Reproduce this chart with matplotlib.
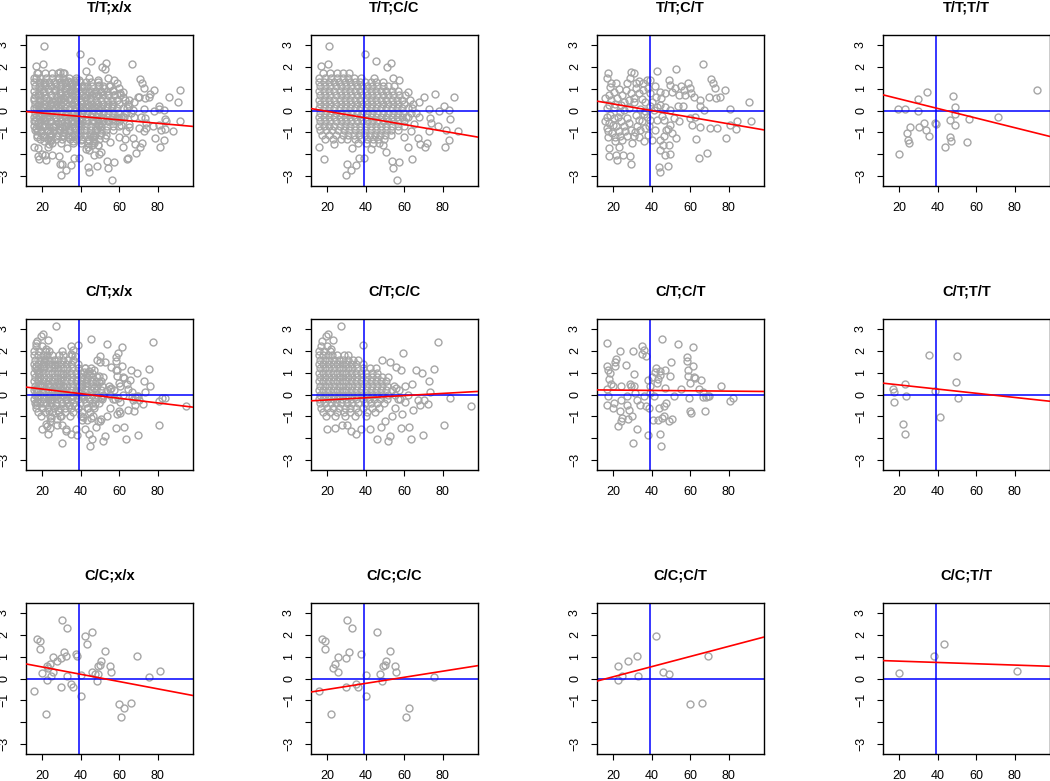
import numpy as np
import matplotlib
matplotlib.use('Agg')
import matplotlib.pyplot as plt

plt.rcParams['font.family'] = ['Liberation Sans', 'DejaVu Sans']

# --- data ----------------------------------------------------------------
# dense clouds are given as rows: (y, [x, x, ...]); sparse points as (x, y)

# T/T;C/C
tt_cc_rows = [
    (1.70, [18.0, 21.5, 25.0, 28.4, 31.5]),
    (1.50, [16.0, 19.0, 22.0, 25.0, 28.0, 31.0, 34.0, 37.5, 44.5]),
    (1.30, [15.5, 18.2, 20.9, 23.6, 26.3, 29.0, 31.7, 34.4, 37.1, 39.8, 42.5, 45.5, 49.0]),
    (1.10, [16.3, 19.0, 21.7, 24.4, 27.1, 29.8, 32.5, 35.2, 37.9, 40.6, 43.3, 46.0, 48.7, 51.5, 54.5]),
    (0.90, [15.6, 18.3, 21.0, 23.7, 26.4, 29.1, 31.8, 34.5, 37.2, 39.9, 42.6, 45.3, 48.0, 50.7, 53.4, 56.5]),
    (0.70, [16.3, 19.0, 21.7, 24.4, 27.1, 29.8, 32.5, 35.2, 37.9, 40.6, 43.3, 46.0, 48.7, 51.4, 54.1, 57.0, 60.5]),
    (0.50, [15.6, 18.3, 21.0, 23.7, 26.4, 29.1, 31.8, 34.5, 37.2, 39.9, 42.6, 45.3, 48.0, 50.7, 53.4, 56.1, 59.0, 63.0]),
    (0.30, [16.3, 19.0, 21.7, 24.4, 27.1, 29.8, 32.5, 35.2, 37.9, 40.6, 43.3, 46.0, 48.7, 51.4, 54.1, 56.8, 60.0, 64.5]),
    (0.10, [15.6, 18.3, 21.0, 23.7, 26.4, 29.1, 31.8, 34.5, 37.2, 39.9, 42.6, 45.3, 48.0, 50.7, 53.4, 56.1, 58.8, 62.0]),
    (-0.10, [16.3, 19.0, 21.7, 24.4, 27.1, 29.8, 32.5, 35.2, 37.9, 40.6, 43.3, 46.0, 48.7, 51.4, 54.1, 56.8, 59.5, 63.5]),
    (-0.30, [15.6, 18.3, 21.0, 23.7, 26.4, 29.1, 31.8, 34.5, 37.2, 39.9, 42.6, 45.3, 48.0, 50.7, 53.4, 56.1, 58.8, 61.8]),
    (-0.50, [16.3, 19.0, 21.7, 24.4, 27.1, 29.8, 32.5, 35.2, 37.9, 40.6, 43.3, 46.0, 48.7, 51.4, 54.1, 56.8, 60.0]),
    (-0.70, [15.6, 18.3, 21.0, 23.7, 26.4, 29.1, 31.8, 34.5, 37.2, 39.9, 42.6, 45.3, 48.0, 50.7, 53.4, 56.5, 59.8]),
    (-0.90, [16.5, 19.5, 22.5, 25.5, 28.5, 31.5, 34.4, 37.1, 39.8, 42.5, 45.2, 47.9, 50.6, 53.3, 56.5]),
    (-1.10, [17.5, 21.0, 24.5, 28.0, 31.0, 34.0, 36.7, 39.4, 42.1, 44.8, 47.5, 50.2, 53.0]),
    (-1.30, [19.0, 23.0, 27.0, 30.5, 34.5, 37.5, 40.5, 43.5, 46.5, 49.5]),
    (-1.50, [36.0, 40.0, 44.0, 47.0]),
]
tt_cc_pts = [
    (20.7, 2.97), (39.6, 2.6), (45.1, 2.26), (53.1, 2.16), (51.0, 2.0), (16.7, 2.05), (20.2, 2.11),
    (54.0, 1.5), (57.1, 1.41), (61.8, 0.83), (70.1, 0.64), (75.8, 0.76), (85.5, 0.61), (80.8, 0.21),
    (67.5, 0.37), (73.0, 0.06), (78.2, -0.02), (83.0, 0.02), (67.5, -0.31), (73.2, -0.34), (73.9, -0.58),
    (77.7, -0.7), (83.9, -0.4), (87.6, -0.95), (81.7, -0.89), (83.1, -1.36), (81.2, -1.65), (73.0, -0.96),
    (71.8, -1.5), (70.8, -1.68), (66.9, -1.27), (68.2, -1.54), (63.5, -0.96), (62.1, -1.65), (63.8, -2.23),
    (57.1, -2.35), (53.6, -2.31), (54.0, -2.65), (56.2, -3.17), (50.5, -1.88), (48.8, -1.57), (39.2, -2.19),
    (36.6, -2.16), (35.0, -2.49), (32.6, -2.72), (30.2, -2.45), (29.5, -2.95), (18.4, -2.2), (15.7, -1.67),
    (23.6, -1.54), (32.8, -1.74), (42.7, -1.76), (64.0, 0.1), (66.0, -0.1), (61.0, -0.3), (65.0, -0.6),
    (60.0, -1.2),
]

# T/T;C/T
tt_ct_pts = [
    (17.4, 1.71), (16.6, 1.48), (19.0, 1.25), (18.3, 1.07), (21.2, 1.25), (20.3, 0.87), (17.8, 0.72),
    (29.0, 1.76), (31.0, 1.71), (28.6, 1.48), (27.2, 1.25), (31.6, 1.25), (33.3, 1.33), (35.3, 1.25),
    (37.6, 1.41), (39.3, 1.41), (42.5, 1.83), (52.4, 1.9), (66.7, 2.13),
    (26.4, 0.95), (24.7, 0.72), (29.0, 0.8), (30.7, 0.57), (33.3, 0.8), (35.0, 0.52), (36.7, 0.41),
    (39.3, 0.8), (40.2, 0.41), (41.9, 1.1), (44.5, 0.87), (47.0, 0.8), (48.8, 1.41), (49.7, 1.18),
    (50.5, 0.87), (52.2, 1.02), (53.9, 0.72), (55.2, 1.1), (56.6, 0.95), (58.6, 1.25), (60.0, 1.02),
    (57.4, 0.72), (60.5, 0.8), (61.7, 0.64), (65.2, 0.49), (69.5, 0.64), (70.7, 1.44), (71.7, 1.28),
    (72.9, 1.02), (78.1, 0.95), (75.5, 0.64), (73.4, 0.57), (65.2, 0.21), (66.9, 0.03),
    (90.2, 0.37), (91.4, -0.46), (84.1, -0.5), (83.8, -0.86), (80.7, -0.66), (80.7, 0.06), (78.4, -1.27),
    (73.8, -0.81), (70.3, -0.81), (68.6, -1.93), (64.3, -2.19), (63.1, -1.32), (65.2, -0.76), (60.9, -0.66),
    (59.7, -0.35), (62.6, -0.31), (53.4, 0.21), (56.2, 0.21), (49.7, 0.03), (47.1, 0.15), (44.5, 0.26),
    (42.8, 0.18), (41.0, 0.03), (51.4, -0.35), (54.0, -0.46), (49.7, -0.66), (47.6, -0.89), (50.5, -1.04),
    (52.8, -1.27), (48.9, -1.57), (45.9, -1.57), (47.1, -2.03), (49.7, -1.99), (44.5, -1.35), (44.1, -1.83),
    (43.6, -2.57), (44.5, -2.83), (48.4, -2.54), (41.9, -0.89), (40.2, -1.35), (39.3, -0.43),
    (16.9, -0.28), (16.0, -0.5), (16.6, -0.81), (17.2, -1.22), (17.8, -1.73), (17.8, -2.08), (21.2, -2.03),
    (22.1, -2.29), (25.0, -2.03), (28.6, -2.08), (29.0, -2.45), (23.0, -1.68), (18.6, -0.2), (20.3, -0.35),
    (22.4, -0.31), (23.8, -0.5), (21.2, -0.73), (19.5, -1.04), (22.9, -0.96), (25.5, -0.73), (26.9, -0.35),
    (28.1, -0.58), (29.0, -0.89), (27.2, -1.19), (24.7, -1.35), (30.7, -1.19), (31.6, -0.2), (33.3, -0.43),
    (32.4, -0.73), (34.1, -0.89), (35.0, -0.5), (36.7, -0.81), (35.9, -1.42), (29.8, -1.5), (20.7, -1.42),
    (16.6, 0.11), (17.8, 0.26), (20.3, 0.18), (23.4, -0.05), (25.5, 0.03), (28.1, 0.11), (30.7, 0.41),
    (34.1, 0.06), (36.7, 0.0), (37.6, -0.31), (15.5, 0.57), (19.0, 0.46), (22.1, 0.57), (25.5, 0.41),
    (28.1, 0.49), (42.8, -0.43), (45.3, -0.24), (46.6, -0.43), (48.3, -0.86), (46.6, -1.19),
    (18.0, -0.55), (19.8, -0.65), (17.5, -0.95), (20.8, -1.2), (23.5, -1.15), (26.0, -0.95), (31.5, -1.0),
    (33.5, -1.2), (38.0, -1.1), (38.5, -0.7), (36.0, -0.15), (39.0, 0.2), (42.0, 0.6), (45.0, 0.55),
    (38.0, 1.05), (35.5, 0.95), (32.0, 1.05), (23.0, 1.0), (21.0, 0.3), (24.0, 0.25),
]

# T/T;T/T
tt_tt_pts = [
    (19.3, 0.09), (23.1, 0.06), (29.6, 0.52), (29.6, -0.02), (34.6, 0.84), (25.8, -0.75), (30.1, -0.75),
    (32.7, -0.59), (33.9, -0.9), (35.5, -1.19), (24.0, -1.05), (24.6, -1.37), (25.3, -1.48), (19.8, -1.99),
    (38.4, -0.59), (39.2, -0.64), (43.7, -1.69), (46.1, -0.43), (46.6, -1.22), (46.9, -1.4), (48.0, 0.65),
    (48.7, 0.18), (48.7, -0.15), (48.9, -0.67), (55.4, -1.45), (56.3, -0.37), (71.0, -0.29), (91.6, 0.96),
]

# C/T;C/C
ct_cc_rows = [
    (2.20, [17.0, 19.8]),
    (2.00, [16.0, 18.5, 21.5]),
    (1.80, [15.5, 17.8, 20.2, 22.6, 25.0, 28.5, 31.0]),
    (1.60, [16.3, 18.7, 21.1, 23.5, 25.9, 28.3, 30.7, 33.2, 36.0]),
    (1.40, [15.6, 18.0, 20.4, 22.8, 25.2, 27.6, 30.0, 32.4, 35.0, 38.5]),
    (1.20, [16.3, 18.7, 21.1, 23.5, 25.9, 28.3, 30.7, 33.1, 35.6, 38.5, 42.0, 45.5]),
    (1.00, [15.6, 18.0, 20.4, 22.8, 25.2, 27.6, 30.0, 32.4, 34.8, 37.3, 40.0, 43.0, 46.0]),
    (0.80, [16.3, 18.7, 21.1, 23.5, 25.9, 28.3, 30.7, 33.1, 35.5, 38.0, 40.6, 43.2, 45.8, 48.5, 51.5]),
    (0.60, [15.6, 18.0, 20.4, 22.8, 25.2, 27.6, 30.0, 32.4, 34.8, 37.3, 39.9, 42.5, 45.1, 47.7, 50.5]),
    (0.40, [16.3, 18.7, 21.1, 23.5, 25.9, 28.3, 30.7, 33.1, 35.5, 38.0, 40.6, 43.2, 45.8, 48.4, 51.0, 54.5]),
    (0.20, [15.6, 18.0, 20.4, 22.8, 25.2, 27.6, 30.0, 32.4, 34.8, 37.3, 39.9, 42.5, 45.1, 47.7, 50.5, 53.5, 57.0]),
    (0.00, [16.3, 18.7, 21.1, 23.5, 25.9, 28.3, 30.7, 33.1, 35.5, 38.0, 40.6, 43.2, 45.8, 48.5, 51.5, 55.0]),
    (-0.20, [15.6, 18.0, 20.4, 22.8, 25.2, 27.6, 30.0, 32.5, 35.0, 38.5, 41.5, 44.5, 47.5, 51.0, 56.5]),
    (-0.40, [16.3, 19.0, 21.8, 24.6, 27.4, 30.2, 33.0, 36.0, 39.5, 42.5, 46.0, 49.5]),
    (-0.60, [17.0, 20.0, 23.0, 26.0, 29.0, 32.0, 35.0, 38.5, 43.0, 47.0]),
    (-0.80, [18.0, 21.5, 25.0, 28.5, 32.0, 36.0, 40.5, 45.0]),
    (-1.00, [19.5, 24.0, 29.0, 34.5, 40.0]),
]
ct_cc_pts = [
    (27.3, 3.13), (20.3, 2.78), (19.5, 2.66), (17.4, 2.45), (22.9, 2.48), (22.1, 2.09), (38.5, 2.28),
    (59.3, 1.91), (77.4, 2.4), (48.4, 1.56), (52.4, 1.48), (55.8, 1.25), (58.4, 1.1), (65.8, 1.13),
    (69.1, 0.98), (75.2, 1.18), (72.8, 0.64), (63.9, 0.49), (60.1, 0.41), (73.1, 0.11), (70.2, -0.24),
    (67.1, -0.24), (67.9, -0.5), (64.5, -0.73), (72.2, -0.43), (83.7, -0.15), (94.4, -0.54), (80.6, -1.38),
    (69.7, -1.85), (63.6, -2.06), (62.4, -1.47), (58.4, -1.53), (58.8, -0.89), (52.4, -1.88), (51.5, -2.14),
    (45.8, -2.06), (42.3, -1.57), (37.6, -1.59), (35.1, -1.8), (32.5, -1.68), (30.4, -1.42), (27.8, -1.42),
    (23.8, -1.53), (20.0, -1.57), (57.5, -0.2), (60.5, -0.35), (55.0, -0.6), (53.5, -1.0), (50.0, -1.2),
    (48.0, -1.5), (55.5, 0.3), (62.0, 0.0),
]

# C/T;C/T
ct_ct_pts = [
    (16.9, 2.36), (16.6, 1.32), (17.2, 1.1), (18.6, 0.99), (17.8, 0.72), (19.0, 0.46), (19.7, 0.38),
    (16.9, 0.23), (17.4, -0.08), (16.6, -0.46), (19.7, -0.61), (20.3, -0.38), (20.9, 1.48), (21.4, 1.63),
    (20.9, 1.32), (23.4, 2.0), (23.8, 0.38), (23.8, -0.23), (23.4, -0.76), (22.6, -1.45), (24.6, -1.07),
    (23.8, -1.22), (26.4, 1.37), (27.1, -0.08), (27.4, -0.46), (27.7, -1.14), (28.1, -0.69), (28.6, 0.46),
    (29.3, 0.38), (30.0, -0.99), (30.3, 2.0), (30.7, 0.94), (31.0, 0.38), (31.5, 0.08), (30.1, -2.24),
    (32.4, -0.23), (32.4, -1.57), (34.1, -0.46), (34.9, 1.86), (35.1, 2.2), (36.2, 2.05), (37.2, 1.78),
    (36.2, -0.08), (37.2, -0.53), (37.9, 0.65), (38.0, -1.86), (38.4, -0.61), (38.9, 0.38), (39.2, 0.08),
    (40.1, 0.81), (40.6, -1.17), (41.0, -0.05), (41.8, 1.02), (42.2, 1.22), (42.5, 0.53), (43.0, 0.72),
    (43.4, -1.17), (43.9, -0.61), (44.2, 0.9), (44.4, 1.07), (45.1, 2.53), (44.4, -1.81), (44.6, -2.36),
    (45.4, -1.07), (46.5, -0.99), (46.1, -0.53), (47.0, 1.11), (47.0, 0.3), (47.5, -0.38), (48.7, -1.22),
    (49.2, 0.87), (49.9, 1.48), (50.6, -1.14), (51.3, -0.05), (53.8, 2.31), (55.2, 0.26), (58.1, 1.71),
    (58.1, 1.52), (58.7, 1.14), (59.0, 0.84), (59.3, -0.15), (59.9, 0.53), (59.9, -0.76), (60.4, -0.87),
    (61.2, 1.29), (61.6, 2.18), (62.0, 0.81), (62.4, 0.76), (64.5, 0.27), (65.5, 0.68), (66.4, 0.11),
    (66.7, -0.11), (67.6, -0.76), (68.1, -0.11), (69.3, -0.08), (69.8, -0.05), (75.8, 0.41), (80.8, -0.3),
    (82.2, -0.18),
]

# C/T;T/T
ct_tt_pts = [
    (16.7, 0.26), (17.4, 0.11), (17.4, -0.33), (23.1, 0.5), (23.6, -0.09), (21.9, -1.34), (23.1, -1.83),
    (35.3, 1.83), (38.6, 0.18), (41.0, -1.03), (50.1, 1.77), (49.6, 0.58), (50.4, -0.15),
]

# C/C;C/C
cc_cc_pts = [
    (15.7, -0.58), (17.2, 1.83), (19.0, 1.72), (18.8, 1.35), (22.8, 0.46), (24.0, 0.67), (25.5, 1.0),
    (25.7, 0.32), (21.9, -1.61), (29.8, 0.93), (30.3, 2.69), (29.8, -0.4), (31.2, 1.2), (33.1, 2.31),
    (35.0, -0.23), (36.2, -0.4), (37.6, 1.14), (40.3, 0.17), (40.3, -0.81), (46.0, 2.12), (47.2, 0.21),
    (48.4, -0.11), (48.9, 0.58), (49.8, 0.62), (50.7, 0.82), (52.4, 1.28), (55.0, 0.59), (55.9, 0.29),
    (61.0, -1.78), (62.2, -1.34), (75.2, 0.08),
]

# C/C;C/T
cc_ct_pts = [
    (22.6, 0.59), (22.6, -0.05), (24.6, 0.11), (27.6, 0.78), (32.5, 1.05), (32.9, 0.11), (42.3, 1.96),
    (45.9, 0.3), (48.9, 0.21), (59.9, -1.16), (66.1, -1.11), (69.4, 1.05),
]

# C/C;T/T
cc_tt_pts = [(19.8, 0.27), (38.2, 1.05), (43.2, 1.58), (81.0, 0.33)]

# red fitted lines: (intercept, slope)
fit_lines = [
    (0.040, -0.00784), (0.264, -0.01511), (0.605, -0.01522), (0.973, -0.02203),
    (0.462, -0.01061), (-0.347, 0.00496), (0.219, -0.00081), (0.630, -0.00957),
    (0.862, -0.01672), (-0.781, 0.01396), (-0.388, 0.0233), (0.855, -0.0030),
]
titles = [
    'T/T;x/x', 'T/T;C/C', 'T/T;C/T', 'T/T;T/T',
    'C/T;x/x', 'C/T;C/C', 'C/T;C/T', 'C/T;T/T',
    'C/C;x/x', 'C/C;C/C', 'C/C;C/T', 'C/C;T/T',
]
age_cut = 39
x_ticks = [20, 40, 60, 80]
y_ticks = [-3, -2, -1, 0, 1, 2, 3]
y_tick_labels = ['\u22123', '', '\u22121', '0', '1', '2', '3']


def cloud(rows=(), pts=()):
    xs = [x for y, row in rows for x in row] + [p[0] for p in pts]
    ys = [y for y, row in rows for _ in row] + [p[1] for p in pts]
    return np.array(xs), np.array(ys)


def join(*parts):
    return np.concatenate([p[0] for p in parts]), np.concatenate([p[1] for p in parts])


tt_cc = cloud(tt_cc_rows, tt_cc_pts)
tt_ct = cloud(pts=tt_ct_pts)
tt_tt = cloud(pts=tt_tt_pts)
ct_cc = cloud(ct_cc_rows, ct_cc_pts)
ct_ct = cloud(pts=ct_ct_pts)
ct_tt = cloud(pts=ct_tt_pts)
cc_cc = cloud(pts=cc_cc_pts)
cc_ct = cloud(pts=cc_ct_pts)
cc_tt = cloud(pts=cc_tt_pts)

# x/x panels hold every genotype of the second marker
series = [
    join(tt_cc, tt_ct, tt_tt), tt_cc, tt_ct, tt_tt,
    join(ct_cc, ct_ct, ct_tt), ct_cc, ct_ct, ct_tt,
    join(cc_cc, cc_ct, cc_tt), cc_cc, cc_ct, cc_tt,
]

W, H = 1050, 781
col_left = [26, 311, 597, 883]
row_top = [35, 319, 603]
box_w, box_h = 167, 151

fig = plt.figure(figsize=(W / 100, H / 100), dpi=100)

for i, (title, (x, y), (b, m)) in enumerate(zip(titles, series, fit_lines)):
    r, c = divmod(i, 4)
    ax = fig.add_axes([col_left[c] / W, 1 - (row_top[r] + box_h) / H, box_w / W, box_h / H])
    ax.plot(x, y, 'o', mfc='none', mec='#a6a6a6', ms=5.0, mew=1.0, zorder=1)
    ax.axhline(0, color='blue', lw=1.1, zorder=2)
    ax.axvline(age_cut, color='blue', lw=1.1, zorder=2)
    ax.axline((0, b), slope=m, color='red', lw=1.2, zorder=3)
    ax.set_xlim(11.6, 98.2)
    ax.set_ylim(-3.46, 3.46)
    ax.set_xticks(x_ticks)
    ax.set_yticks(y_ticks)
    ax.set_yticklabels(y_tick_labels, rotation=90, va='center')
    ax.tick_params(direction='out', length=4.5, width=0.8, labelsize=9, pad=7)
    for s in ax.spines.values():
        s.set_linewidth(1.0)
    ax.text(0.5, 1 + 28 / box_h, title, transform=ax.transAxes, ha='center', va='center',
            fontsize=10.5, fontweight='bold')

fig.savefig('out.png', dpi=100)
